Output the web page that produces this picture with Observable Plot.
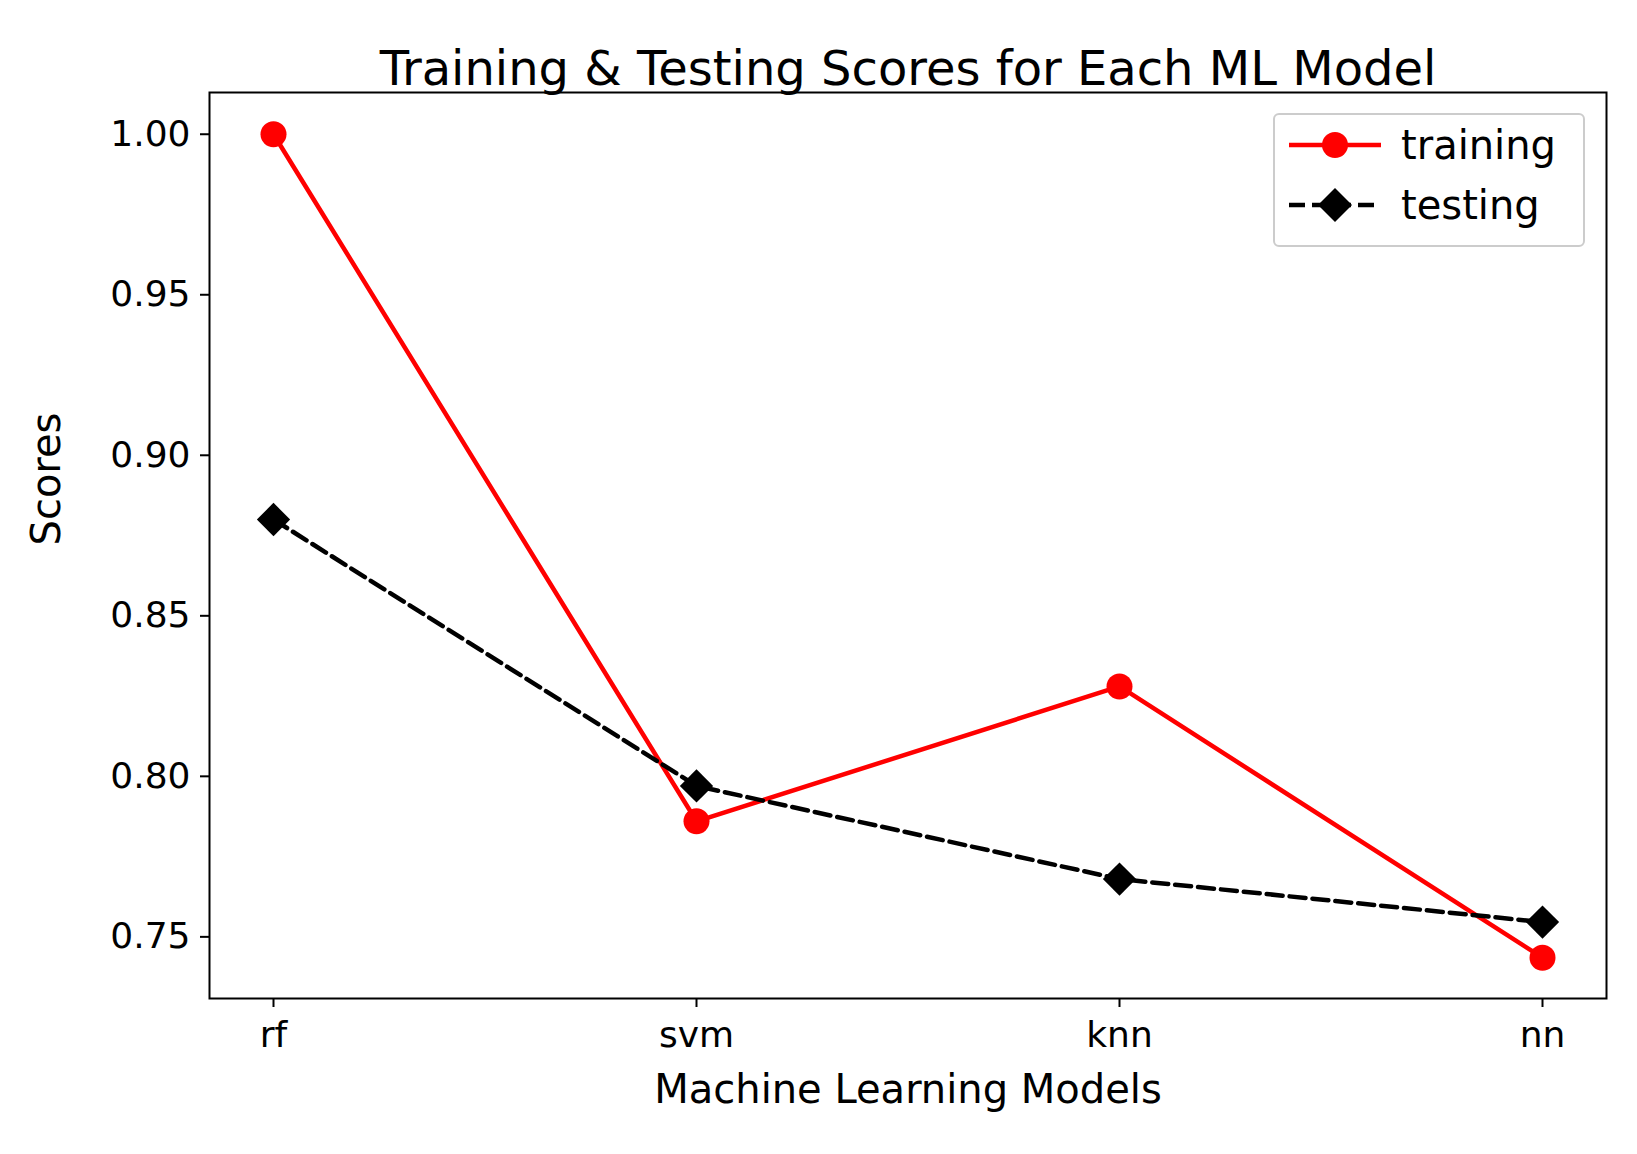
<!DOCTYPE html>
<html>
<head>
<meta charset="utf-8">
<script src="https://cdn.jsdelivr.net/npm/d3@7"></script>
<script src="https://cdn.jsdelivr.net/npm/@observablehq/plot@0.6"></script>
<style>
  body { margin: 0; background: white; font-family: "DejaVu Sans", sans-serif; }
  #wrap { position: relative; width: 1637px; height: 1154px; }
  #legend { position: absolute; left: 1273px; top: 113px; width: 308px; height: 130px;
    border: 2px solid #ccc; border-radius: 6px; background: white; font-size: 40px; }
  #legend div { display: flex; align-items: center; height: 60px; padding-left: 10px; }
  #legend span { margin-left: 16px; }
</style>
</head>
<body>
<div id="wrap">
  <div id="chart"></div>
  <div id="legend">
    <div><svg width="100" height="40"><line x1="4" y1="20" x2="96" y2="20" stroke="red" stroke-width="4.5"/><circle cx="50" cy="20" r="13" fill="red"/></svg><span>training</span></div>
    <div><svg width="100" height="40"><line x1="4" y1="20" x2="96" y2="20" stroke="black" stroke-width="4.5" stroke-dasharray="16,7"/><rect x="38" y="8" width="24" height="24" fill="black" transform="rotate(45 50 20)"/></svg><span>testing</span></div>
  </div>
</div>
<script>
const models = ["rf", "svm", "knn", "nn"];
const training = [1.000, 0.786, 0.828, 0.7435];
const testing = [0.880, 0.797, 0.768, 0.7546];
const yTicks = [0.75, 0.80, 0.85, 0.90, 0.95, 1.00];

const train = models.map((m, i) => ({model: m, score: training[i]}));
const test = models.map((m, i) => ({model: m, score: testing[i]}));

const chart = Plot.plot({
  width: 1637,
  height: 1154,
  marginLeft: 209,
  marginRight: 31,
  marginTop: 92,
  marginBottom: 156,
  style: {fontFamily: "DejaVu Sans, sans-serif", fontSize: "36px", background: "white", color: "black"},
  x: {type: "point", domain: models, padding: 0.15, label: null},
  y: {domain: [0.7308, 1.013], label: null},
  marks: [
    Plot.frame({stroke: "black", strokeWidth: 2}),
    Plot.axisX({tickSize: 9, tickPadding: 14, fontSize: 36, strokeWidth: 2}),
    Plot.axisY({ticks: yTicks, tickFormat: ".2f", tickSize: 9, tickPadding: 10, fontSize: 36, strokeWidth: 2}),
    Plot.line(train, {x: "model", y: "score", stroke: "red", strokeWidth: 4.5}),
    Plot.dot(train, {x: "model", y: "score", fill: "red", r: 13}),
    Plot.line(test, {x: "model", y: "score", stroke: "black", strokeWidth: 4.5, strokeDasharray: "16,7"}),
    Plot.dot(test, {x: "model", y: "score", fill: "black", symbol: "diamond2", r: 15}),
    Plot.text(["Training & Testing Scores for Each ML Model"], {frameAnchor: "top", dy: -42, fontSize: 48}),
    Plot.text(["Machine Learning Models"], {frameAnchor: "bottom", dy: 104, fontSize: 40}),
    Plot.text(["Scores"], {frameAnchor: "left", dx: -162, rotate: -90, fontSize: 40})
  ]
});
d3.select("#chart").append(() => chart);
</script>
</body>
</html>
